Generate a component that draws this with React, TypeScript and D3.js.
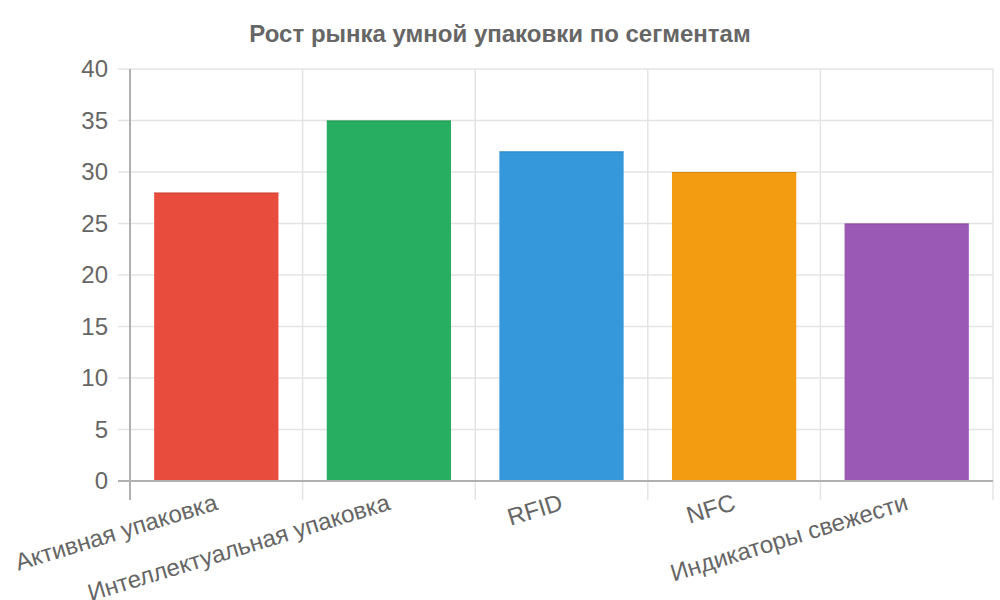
import React from "react";
import * as d3 from "d3";

const categories = ["Активная упаковка", "Интеллектуальная упаковка", "RFID", "NFC", "Индикаторы свежести"];
const values = [28, 35, 32, 30, 25];
const colors = ["#e74c3c", "#27ae60", "#3498db", "#f39c12", "#9b59b6"];
const yTicks = [0, 5, 10, 15, 20, 25, 30, 35, 40];
const title = "Рост рынка умной упаковки по сегментам";

const W = 1000, H = 600;
const left = 130, right = 993, top = 69, bottom = 481;
const FONT = "'Liberation Sans', Arial, sans-serif";

export default function App() {
  const x = d3.scaleBand<string>().domain(categories).range([left, right]).paddingInner(0).paddingOuter(0);
  const y = d3.scaleLinear().domain([0, 40]).range([bottom, top]);
  const bw = x.bandwidth() * 0.72;
  return (
    <svg width={W} height={H} style={{ position: "absolute", left: 0, top: 0, background: "#fff" }}>
      <text x={500} y={42} textAnchor="middle" fontFamily={FONT} fontWeight="bold" fontSize={24} fill="#666">{title}</text>
      {yTicks.map((t) => (
        <g key={t}>
          <line x1={118} x2={right} y1={y(t)} y2={y(t)} stroke={t === 0 ? "#b0b0b0" : "#e4e4e4"} strokeWidth={t === 0 ? 2 : 1.5} />
          <text x={108} y={y(t)} dy="0.35em" textAnchor="end" fontFamily={FONT} fontSize={24} fill="#666">{t}</text>
        </g>
      ))}
      {d3.range(categories.length + 1).map((i) => {
        const xx = left + i * x.step();
        return <line key={i} x1={xx} x2={xx} y1={top} y2={500} stroke={i === 0 ? "#b0b0b0" : "#e4e4e4"} strokeWidth={i === 0 ? 2 : 1.5} />;
      })}
      {categories.map((c, i) => {
        const cx = (x(c) as number) + x.bandwidth() / 2;
        return (
          <g key={c}>
            <rect x={cx - bw / 2} y={y(values[i])} width={bw} height={bottom - y(values[i])} fill={colors[i]} />
            <line x1={cx - bw / 2} x2={cx + bw / 2} y1={y(values[i]) + 0.5} y2={y(values[i]) + 0.5} stroke={d3.color(colors[i])!.darker(0.6).toString()} strokeWidth={1} opacity={0.6} />
          </g>
        );
      })}
      <line x1={left} x2={right} y1={bottom} y2={bottom} stroke="#b0b0b0" strokeWidth={2} />
      {categories.map((c) => {
        const cx = (x(c) as number) + x.bandwidth() / 2;
        return (
          <text key={c} transform={`translate(${cx - 3},${491}) rotate(-17)`} textAnchor="end" dy="0.8em" fontFamily={FONT} fontSize={24} fill="#666">{c}</text>
        );
      })}
    </svg>
  );
}
